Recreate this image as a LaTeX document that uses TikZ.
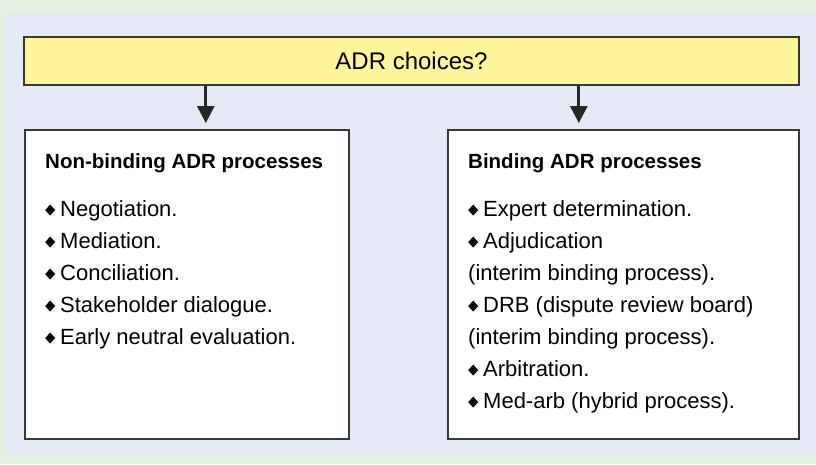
\documentclass[tikz,border=0pt]{standalone}
\usepackage{fontspec}
\setmainfont{Liberation Sans}
\usetikzlibrary{positioning, arrows.meta}

\definecolor{pagegreen}{RGB}{228,242,228}
\definecolor{panelblue}{RGB}{230,234,246}
\definecolor{titleyellow}{RGB}{255,245,155}
\definecolor{rulegray}{RGB}{55,55,55}

% small filled diamond used as bullet
\newcommand{\dmd}{\tikz[baseline=0pt]\fill (0pt,6pt)--(5pt,11.5pt)--(10pt,6pt)--(5pt,0.5pt)--cycle;\hspace{5pt}}
\newcommand{\boxhead}[1]{{\fontsize{20.5}{32}\selectfont\bfseries #1}}

\begin{document}
\begin{tikzpicture}[
    x=1pt, y=-1pt,
    >={Triangle[length=17pt, width=17pt]},
    font=\fontsize{22}{32}\selectfont
]

    % Global styles
    \tikzset{
        framebox/.style={draw=rulegray, line width=1.6pt, fill=white, inner sep=0pt},
        listtext/.style={align=left, inner sep=0pt, anchor=north west},
        arr/.style={->, line width=3pt, draw=black!85, fill=black!85}
    }

    % Background and panel
    \useasboundingbox (0,0) rectangle (816,464);
    \fill[pagegreen] (0,0) rectangle (816,464);
    \fill[panelblue] (5,14) rectangle (816,455);

    % Question box
    \node[framebox, fill=titleyellow, minimum width=775pt, minimum height=48pt,
          font=\fontsize{24}{28}\selectfont] (choices) at (411.5,61) {ADR choices?};

    % Two outcome boxes
    \node[framebox, anchor=north west, minimum width=324pt, minimum height=309pt] (nonbind) at (24,129) {};
    \node[framebox, anchor=north west, minimum width=351pt, minimum height=309pt] (bind) at (447,129) {};

    % Non-binding list
    \node[listtext] (nonbindlist) at ([xshift=21pt, yshift=-24pt]nonbind.north west) {%
        \boxhead{Non-binding ADR processes}\\[16pt]
        \dmd Negotiation.\\
        \dmd Mediation.\\
        \dmd Conciliation.\\
        \dmd Stakeholder dialogue.\\
        \dmd Early neutral evaluation.};

    % Binding list
    \node[listtext] (bindlist) at ([xshift=21pt, yshift=-24pt]bind.north west) {%
        \boxhead{Binding ADR processes}\\[16pt]
        \dmd Expert determination.\\
        \dmd Adjudication\\
        (interim binding process).\\
        \dmd DRB (dispute review board)\\
        (interim binding process).\\
        \dmd Arbitration.\\
        \dmd Med-arb (hybrid process).};

    % Arrows from question to boxes
    \coordinate (nbin) at ([xshift=19pt]nonbind.north);
    \coordinate (bin) at ([xshift=-44.5pt]bind.north);
    \draw[arr] (choices.south -| nbin) -- ([yshift=6pt]nbin);
    \draw[arr] (choices.south -| bin) -- ([yshift=6pt]bin);

\end{tikzpicture}
\end{document}
